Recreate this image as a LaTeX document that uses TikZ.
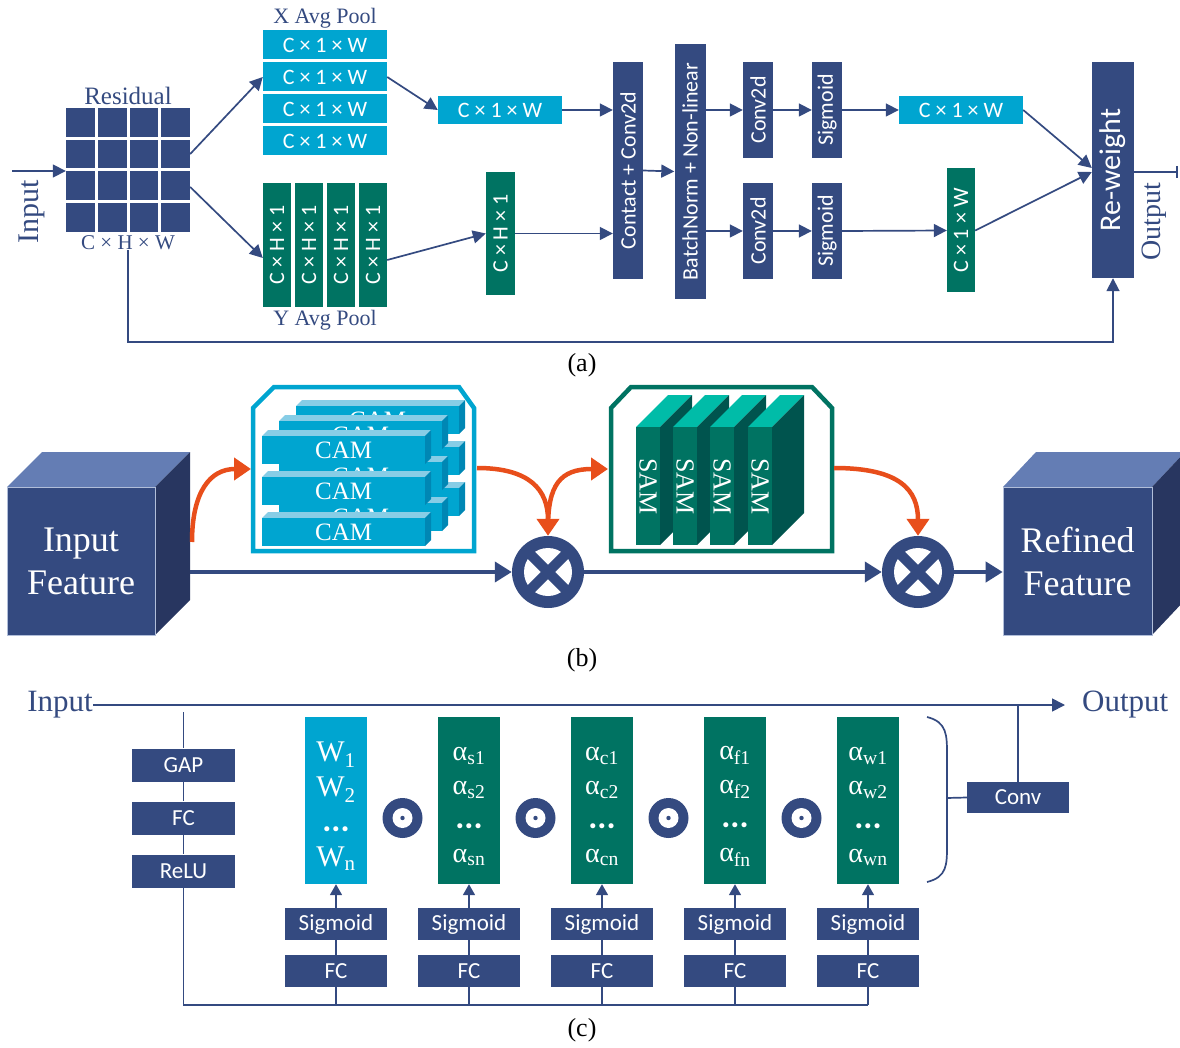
\documentclass[tikz,border=0pt]{standalone}
\usepackage{fontspec}
\setmainfont{Liberation Serif}
\newfontfamily\boxfont{Carlito}
\usetikzlibrary{arrows.meta,calc}

\definecolor{navy}{RGB}{52,74,128}
\definecolor{skyb}{RGB}{0,165,208}
\definecolor{tealg}{RGB}{0,115,98}
\definecolor{orng}{RGB}{232,78,27}
\definecolor{cubetop}{RGB}{100,125,180}
\definecolor{cubeside}{RGB}{40,54,96}
\definecolor{camtop}{RGB}{135,205,230}
\definecolor{camside}{RGB}{0,135,180}
\definecolor{samtop}{RGB}{0,188,168}
\definecolor{samside}{RGB}{0,84,78}

\newcommand{\pxsize}[1]{\fontsize{#1}{#1}\selectfont}
\newcommand{\dotsbold}{{\boxfont\bfseries\fontsize{34}{34}\selectfont ...}}

\tikzset{
  blk/.style={fill=navy, text=white, inner sep=0pt, font=\boxfont\pxsize{22}},
  cyanblk/.style={blk, fill=skyb},
  tealblk/.style={blk, fill=tealg},
  lbl/.style={text=navy, inner sep=0pt},
  ln/.style={draw=navy, line width=1.7pt},
  arr/.style={ln, -{Triangle[length=13pt,width=13pt]}},
  oarr/.style={draw=orng, line width=4.5pt, -{Triangle[length=17pt,width=22pt]}},
  barr/.style={draw=navy, line width=4pt, -{Triangle[length=17pt,width=20pt]}},
  cubefront/.style={fill=navy, draw=cubetop!50!white, line width=0.6pt, text=white, align=center,
    minimum width=148pt, minimum height=148pt, inner sep=0pt, font=\fontsize{36}{43}\selectfont},
  mult/.style={circle, fill=navy, minimum size=72pt, inner sep=0pt,
    path picture={
      \fill[white] (path picture bounding box.center) circle (24pt);
      \draw[navy, line width=10pt, shift={(path picture bounding box.center)}]
        (-20pt,-20pt) -- (20pt,20pt) (-20pt,20pt) -- (20pt,-20pt);
    }},
  odot/.style={circle, fill=navy, minimum size=40pt, inner sep=0pt,
    path picture={
      \fill[white] (path picture bounding box.center) circle (10pt);
      \fill[navy] (path picture bounding box.center) circle (2.2pt);
    }},
  colbox/.style={minimum width=62pt, minimum height=167pt, inner sep=0pt},
  coltext/.style={text=white, align=center, inner sep=0pt, font=\fontsize{28}{34}\selectfont},
}

\begin{document}
\begin{tikzpicture}[x=1pt, y=-1pt]
  \useasboundingbox (0,0) rectangle (1180,1048);

  % (a)
  \node[lbl, font=\pxsize{30}] (ain) at (32,212) {\rotatebox{90}{Input}};
  \coordinate (ainstart) at (12,171);
  \node[minimum size=124pt, inner sep=0pt] (grid) at (128,170) {};
  \foreach \i in {0,...,3}
    \foreach \j in {0,...,3}
      \fill[navy] (66+31.75*\i,108+31.75*\j) rectangle ++(28.75,28.75);
  \node[lbl, font=\pxsize{25}] (reslbl) at (128,96) {Residual};
  \node[lbl, font=\pxsize{21}] (chw) at (128,243) {C × H × W};
  \draw[arr] (ainstart) -- (grid.west |- ainstart);

  \node[lbl, font=\pxsize{22}] (xlbl) at (325,18) {X Avg Pool};
  \foreach \n/\y in {1/45,2/77,3/109,4/141}
    \node[cyanblk, minimum width=124pt, minimum height=29pt] (xp\n) at (325,\y) {C × 1 × W};
  \foreach \n/\x in {1/277,2/309,3/341,4/373}
    \node[tealblk, minimum width=28pt, minimum height=124pt] (yp\n) at (\x,245) {\rotatebox{90}{C × H × 1}};
  \node[lbl, font=\pxsize{22}] (ylbl) at (325,320) {Y Avg Pool};
  \draw[arr] (grid.east |- 0,154) -- (xp2.west);
  \draw[arr] (grid.east |- 0,187) -- (yp1.west |- 0,258);

  \node[cyanblk, minimum width=124pt, minimum height=28pt] (xmerge) at (500,110) {C × 1 × W};
  \node[tealblk, minimum width=29pt, minimum height=123pt] (ymerge) at (500.5,233.5) {\rotatebox{90}{C × H × 1}};
  \draw[arr] (xp2.east) -- (xmerge.west);
  \draw[arr] (yp4.east |- 0,260) -- (ymerge.west);

  \node[blk, minimum width=30pt, minimum height=217pt] (cat) at (628,170.5) {\rotatebox{90}{Contact + Conv2d}};
  \node[blk, minimum width=31pt, minimum height=255pt] (bn) at (690,171.5) {\rotatebox{90}{BatchNorm + Non-linear}};
  \draw[arr] (xmerge.east) -- (xmerge.east -| cat.west);
  \draw[arr] (ymerge.east) -- (ymerge.east -| cat.west);
  \draw[arr] (cat.east) -- (bn.west);

  \node[blk, minimum width=30pt, minimum height=96pt] (cvx) at (758,110) {\rotatebox{90}{Conv2d}};
  \node[blk, minimum width=30pt, minimum height=96pt] (cvy) at (758,231) {\rotatebox{90}{Conv2d}};
  \node[blk, minimum width=30pt, minimum height=96pt] (sgx) at (827,110) {\rotatebox{90}{Sigmoid}};
  \node[blk, minimum width=30pt, minimum height=96pt] (sgy) at (827,231) {\rotatebox{90}{Sigmoid}};
  \draw[arr] (bn.east |- cvx) -- (cvx.west);
  \draw[arr] (bn.east |- cvy) -- (cvy.west);
  \draw[arr] (cvx.east) -- (sgx.west);
  \draw[arr] (cvy.east) -- (sgy.west);

  \node[cyanblk, minimum width=124pt, minimum height=28pt] (xout) at (961,110) {C × 1 × W};
  \node[tealblk, minimum width=28pt, minimum height=124pt] (yout) at (961,230.5) {\rotatebox{90}{C × 1 × W}};
  \draw[arr] (sgx.east) -- (xout.west);
  \draw[arr] (sgy.east) -- (yout.west);

  \node[blk, minimum width=42pt, minimum height=216pt, font=\boxfont\pxsize{30}] (rw) at (1113,170) {\rotatebox{90}{Re-weight}};
  \draw[arr] (xout.east) -- (rw.west |- 0,168);
  \draw[arr] (yout.east) -- (rw.west |- 0,172);
  \coordinate (aout) at (1178,172);
  \draw[ln, -{Bar[width=12pt]}] (rw.east |- aout) -- (aout);
  \node[lbl, font=\pxsize{28}] (aoutlbl) at (1154,222) {\rotatebox{90}{Output}};
  \draw[arr] (chw.south) -- (chw.south |- 0,342) -| (rw.south);
  \node[font=\pxsize{26}] (capa) at (582,365) {(a)};

  % (b)
  \fill[cubetop] (7,487) -- (42,452) -- (190,452) -- (155,487) -- cycle;
  \fill[cubeside] (155,487) -- (190,452) -- (190,600) -- (155,635) -- cycle;
  \node[cubefront] (infeat) at (81,561) {Input\\Feature};

  \draw[skyb, line width=4.5pt] (253,551) -- (253,408) -- (274,387) -- (459,387) -- (474,408) -- (474,551) -- cycle;
  \foreach \k in {2,1,0}{
    \foreach \r in {0,1,2}{
      \pgfmathsetmacro{\bx}{262+17*\k}
      \pgfmathsetmacro{\by}{436+41*\r-15*\k}
      \fill[camtop] (\bx,\by) -- ++(6,-6) -- ++(163,0) -- ++(-6,6) -- cycle;
      \fill[camside] (\bx+163,\by) -- ++(6,-6) -- ++(0,28) -- ++(-6,6) -- cycle;
      \node[fill=skyb, minimum width=163pt, minimum height=28pt, inner sep=0pt, text=white,
        font=\pxsize{25}, anchor=north west] (cam\k\r) at (\bx,\by) {CAM};
    }
  }

  \draw[tealg, line width=4.5pt] (611,551) -- (611,408) -- (631,387) -- (812,387) -- (832,408) -- (832,551) -- cycle;
  \foreach \n/\x in {1/636,2/673,3/710,4/748}{
    \fill[samtop] (\x,427) -- ++(32,-32) -- ++(24,0) -- ++(-32,32) -- cycle;
    \fill[samside] (\x+24,427) -- ++(32,-32) -- ++(0,118) -- ++(-32,32) -- cycle;
    \node[fill=tealg, minimum width=24pt, minimum height=118pt, inner sep=0pt, text=white,
      font=\pxsize{26}, anchor=north west] (sam\n) at (\x,427) {\rotatebox{-90}{SAM}};
  }

  \fill[cubetop] (1003,487) -- (1036,452) -- (1185,452) -- (1152,487) -- cycle;
  \fill[cubeside] (1152,487) -- (1185,452) -- (1185,600) -- (1152,635) -- cycle;
  \node[cubefront, minimum width=149pt] (refeat) at (1077.5,561) {Refined\\Feature};

  \node[mult] (mul1) at (548,572) {};
  \node[mult] (mul2) at (918,572) {};
  \coordinate (incube) at (192,542);
  \coordinate (incubeline) at (190,572);
  \coordinate (camin) at (251,469);
  \coordinate (camout) at (477,468);
  \coordinate (samin) at (608,469);
  \coordinate (samout) at (834,468);
  \draw[oarr] (incube) .. controls (192,492) and (210,469) .. (camin);
  \draw[oarr] (camout) .. controls (530,468) and (548,490) .. (mul1.north);
  \draw[oarr] ($(mul1.north)+(0,-8)$) .. controls (548,485) and (560,469) .. (samin);
  \draw[oarr] (samout) .. controls (900,468) and (918,490) .. (mul2.north);
  \draw[barr] (incubeline) -- (mul1.west);
  \draw[barr] (mul1.east) -- (mul2.west);
  \draw[barr] (mul2.east) -- (mul2.east -| refeat.west);
  \node[font=\pxsize{26}] (capb) at (582,660) {(b)};

  % (c)
  \node[lbl, font=\pxsize{31}, anchor=east] (cin) at (93,705) {Input};
  \node[lbl, font=\pxsize{31}, anchor=west] (cout) at (1082,705) {Output};
  \draw[arr] (cin.east) -- ([xshift=-17pt]cout.west);

  \coordinate (ctop) at (183.5,712);
  \coordinate (cbot) at (183.5,1005);
  \node[blk, minimum width=103pt, minimum height=33pt, font=\boxfont\pxsize{23}] (gap) at (183.5,765) {GAP};
  \node[blk, minimum width=103pt, minimum height=33pt, font=\boxfont\pxsize{23}] (fc0) at (183.5,818) {FC};
  \node[blk, minimum width=103pt, minimum height=33pt, font=\boxfont\pxsize{23}] (relu) at (183.5,871) {ReLU};
  \draw[ln] (ctop) -- (gap.north);
  \draw[ln] (gap.south) -- (fc0.north);
  \draw[ln] (fc0.south) -- (relu.north);

  \node[colbox, fill=skyb] (col1) at (336,800.5) {};
  \node[colbox, fill=tealg] (col2) at (469,800.5) {};
  \node[colbox, fill=tealg] (col3) at (602,800.5) {};
  \node[colbox, fill=tealg] (col4) at (735,800.5) {};
  \node[colbox, fill=tealg] (col5) at (868,800.5) {};
  \node[coltext, font=\fontsize{30}{35}\selectfont] at ([yshift=-6pt]col1.center) {W\textsubscript{1}\\W\textsubscript{2}\\\dotsbold\\W\textsubscript{n}};
  \node[coltext] at ([yshift=-6pt]col2.center) {α\textsubscript{s1}\\α\textsubscript{s2}\\\dotsbold\\α\textsubscript{sn}};
  \node[coltext] at ([yshift=-6pt]col3.center) {α\textsubscript{c1}\\α\textsubscript{c2}\\\dotsbold\\α\textsubscript{cn}};
  \node[coltext] at ([yshift=-6pt]col4.center) {α\textsubscript{f1}\\α\textsubscript{f2}\\\dotsbold\\α\textsubscript{fn}};
  \node[coltext] at ([yshift=-6pt]col5.center) {α\textsubscript{w1}\\α\textsubscript{w2}\\\dotsbold\\α\textsubscript{wn}};
  \foreach \i in {1,...,4}
    \node[odot] (dot\i) at (402.5+133*\i-133,818) {};

  \foreach \i/\x in {1/336,2/469,3/602,4/735,5/868}{
    \node[blk, minimum width=102pt, minimum height=32pt, font=\boxfont\pxsize{23}] (fc\i) at (\x,971) {FC};
    \node[blk, minimum width=102pt, minimum height=32pt, font=\boxfont\pxsize{23}] (sg\i) at (\x,924) {Sigmoid};
    \draw[ln] (fc\i.north) -- (sg\i.south);
    \draw[ln, -{Triangle[length=11pt,width=12pt]}] (sg\i.north) -- (col\i.south);
    \draw[ln] (fc\i.south) -- (fc\i.south |- cbot);
  }
  \draw[ln] (relu.south) -- (cbot) -- (fc5.south |- cbot);

  \node[blk, minimum width=102pt, minimum height=31pt, font=\boxfont\pxsize{23}] (conv) at (1018,797.5) {Conv};
  \coordinate (brtop) at (927,717);
  \coordinate (brbot) at (927,882);
  \coordinate (brmid) at (947,798);
  \draw[ln] (brtop) .. controls (947,722) and (947,735) .. (947,755) -- (947,845) .. controls (947,865) and (947,877) .. (brbot);
  \draw[ln] (brmid) -- (conv.west);
  \draw[ln] (conv.north) -- (conv.north |- cin.east);
  \node[font=\pxsize{26}] (capc) at (582,1030) {(c)};
\end{tikzpicture}
\end{document}
